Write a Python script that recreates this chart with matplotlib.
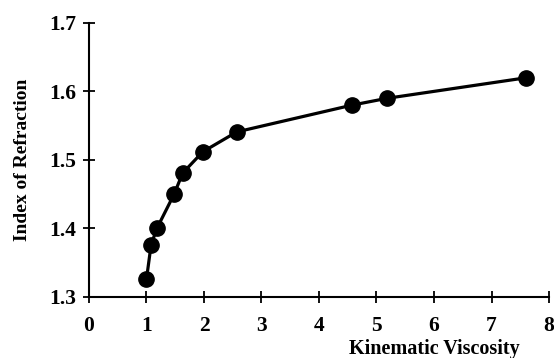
import matplotlib
matplotlib.use("Agg")
import matplotlib.pyplot as plt

viscosity = [1.0, 1.08, 1.18, 1.48, 1.63, 1.98, 2.57, 4.57, 5.18, 7.6]
refraction = [1.326, 1.376, 1.40, 1.45, 1.481, 1.512, 1.541, 1.580, 1.590, 1.620]
x_ticks = [0, 1, 2, 3, 4, 5, 6, 7, 8]
y_ticks = [1.3, 1.4, 1.5, 1.6, 1.7]

plt.rcParams['font.family'] = ['Liberation Serif', 'DejaVu Serif']
plt.rcParams['font.weight'] = 'bold'

fig = plt.figure(figsize=(5.54, 3.58), dpi=100)
ax = fig.add_axes([0.1606, 0.1704, 0.8304, 0.7654])

ax.plot(viscosity, refraction, color='black', lw=2.3, marker='o', ms=11,
        solid_joinstyle='round', clip_on=False)

ax.set_xlim(0, 8)
ax.set_ylim(1.3, 1.7)
ax.set_xticks(x_ticks)
ax.set_xticklabels([str(t) for t in x_ticks])
ax.set_yticks(y_ticks)
ax.set_yticklabels([f"{t:.1f}" for t in y_ticks])

for side in ["top", "right"]:
    ax.spines[side].set_visible(False)
for side in ["left", "bottom"]:
    ax.spines[side].set_linewidth(1.5)

ax.tick_params(direction='inout', length=9, width=1.3, labelsize=15.5, pad=5)
ax.tick_params(axis='x', pad=9)

ax.set_xlabel("Kinematic Viscosity", fontsize=14.5, fontweight='bold')
ax.xaxis.set_label_coords(0.75, -0.19)
ax.xaxis.label.set_va('center')
ax.set_ylabel("Index of Refraction", fontsize=14, fontweight='bold')
ax.yaxis.set_label_coords(-0.145, 0.5)
ax.yaxis.label.set_va('center')

plt.savefig("out.png", dpi=100)
